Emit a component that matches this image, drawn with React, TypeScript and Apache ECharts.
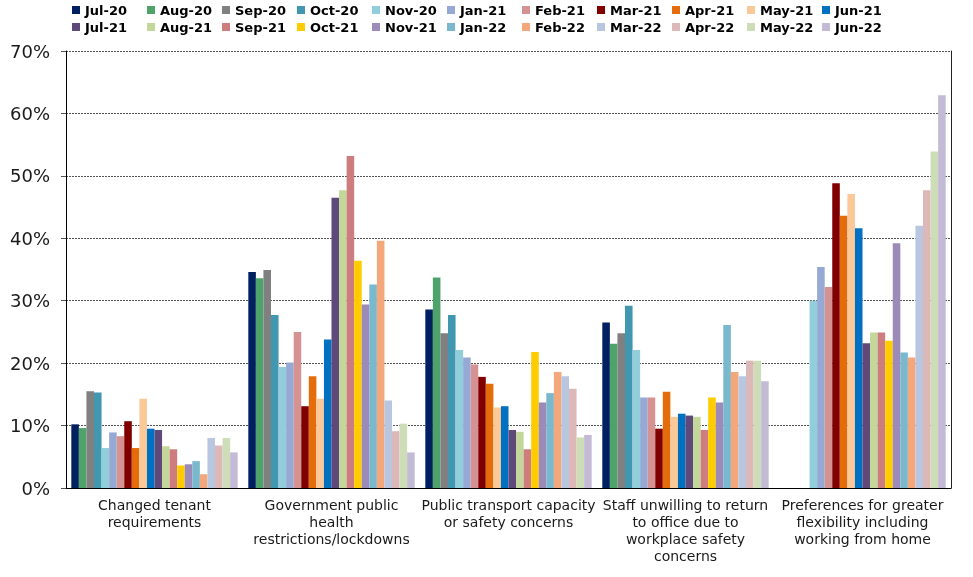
import React, { useEffect, useRef } from "react";
import * as echarts from "echarts";

const categories = [
  "Changed tenant\nrequirements",
  "Government public\nhealth\nrestrictions/lockdowns",
  "Public transport capacity\nor safety concerns",
  "Staff unwilling to return\nto office due to\nworkplace safety\nconcerns",
  "Preferences for greater\nflexibility including\nworking from home",
];

const seriesNames = [
  "Jul-20", "Aug-20", "Sep-20", "Oct-20", "Nov-20", "Jan-21", "Feb-21", "Mar-21", "Apr-21", "May-21", "Jun-21",
  "Jul-21", "Aug-21", "Sep-21", "Oct-21", "Nov-21", "Jan-22", "Feb-22", "Mar-22", "Apr-22", "May-22", "Jun-22",
];

const seriesColors = [
  "#002060", "#4EA36A", "#808080", "#4197AF", "#92CDDC", "#95A9D4", "#D49392", "#800000", "#E46C0A", "#FBC898", "#0070C0",
  "#5F497A", "#C4D79B", "#CD7D7D", "#FFCC00", "#9C8AB8", "#7AB8CE", "#F4A77A", "#B8C6E0", "#DDB8B8", "#CCDDB8", "#C3BAD6",
];

// values per series, in category order (null = no bar)
const jul20 = [10.2, 34.6, 28.6, 26.5, null];
const aug20 = [9.6, 33.6, 33.7, 23.1, null];
const sep20 = [15.5, 34.9, 24.8, 24.8, null];
const oct20 = [15.3, 27.7, 27.7, 29.2, null];
const nov20 = [6.4, 19.4, 22.1, 22.1, 30.0];
const jan21 = [8.9, 20.1, 20.9, 14.5, 35.4];
const feb21 = [8.3, 25.0, 19.8, 14.5, 32.2];
const mar21 = [10.7, 13.1, 17.8, 9.5, 48.8];
const apr21 = [6.4, 17.9, 16.7, 15.4, 43.6];
const may21 = [14.3, 14.3, 12.9, 11.4, 47.1];
const jun21 = [9.5, 23.8, 13.1, 11.9, 41.6];
const jul21 = [9.3, 46.5, 9.3, 11.6, 23.2];
const aug21 = [6.7, 47.7, 9.0, 11.4, 24.9];
const sep21 = [6.2, 53.2, 6.2, 9.3, 24.9];
const oct21 = [3.6, 36.4, 21.8, 14.5, 23.6];
const nov21 = [3.8, 29.4, 13.7, 13.7, 39.2];
const jan22 = [4.3, 32.6, 15.2, 26.1, 21.7];
const feb22 = [2.2, 39.6, 18.6, 18.6, 20.9];
const mar22 = [8.0, 14.0, 17.9, 17.9, 42.0];
const apr22 = [6.8, 9.1, 15.9, 20.4, 47.7];
const may22 = [8.0, 10.3, 8.1, 20.4, 53.9];
const jun22 = [5.7, 5.7, 8.5, 17.1, 62.9];

const seriesValues = [
  jul20, aug20, sep20, oct20, nov20, jan21, feb21, mar21, apr21, may21, jun21,
  jul21, aug21, sep21, oct21, nov21, jan22, feb22, mar22, apr22, may22, jun22,
];

const yTicks = { min: 0, max: 70, interval: 10 };

const FONT = "DejaVu Sans, Verdana, sans-serif";

export default function App() {
  const ref = useRef<HTMLDivElement>(null);
  useEffect(() => {
    if (!ref.current) return;
    const chart = echarts.init(ref.current, undefined, { renderer: "svg" });
    const legendStyle = {
      fontFamily: FONT,
      fontSize: 13,
      fontWeight: "bold" as const,
      color: "#000",
      width: 56,
      lineHeight: 14,
    };
    const legendCommon = {
      orient: "horizontal" as const,
      left: 72,
      padding: 0,
      itemWidth: 8,
      itemHeight: 8,
      itemGap: 6,
      icon: "rect",
      textStyle: legendStyle,
      selectedMode: false,
    };
    chart.setOption({
      animation: false,
      textStyle: { fontFamily: FONT },
      legend: [
        { ...legendCommon, top: 3, data: seriesNames.slice(0, 11) },
        { ...legendCommon, top: 20, data: seriesNames.slice(11) },
      ],
      grid: { left: 66, right: 22, top: 51, bottom: 89, containLabel: false },
      xAxis: {
        type: "category",
        data: categories,
        axisLine: { show: true, lineStyle: { color: "#000", width: 1 } },
        axisTick: { show: false },
        axisLabel: {
          interval: 0,
          fontFamily: FONT,
          fontSize: 14,
          lineHeight: 17,
          color: "#1a1a1a",
          margin: 8,
        },
      },
      yAxis: [
        {
          type: "value",
          min: yTicks.min,
          max: yTicks.max,
          interval: yTicks.interval,
          axisLine: { show: true, lineStyle: { color: "#000", width: 1 } },
          axisTick: { show: true, length: 5, lineStyle: { color: "#555" } },
          axisLabel: {
            formatter: "{value}%",
            fontFamily: FONT,
            fontSize: 18,
            color: "#1a1a1a",
            margin: 16,
          },
          splitLine: {
            show: true,
            lineStyle: { color: "#555", type: [2, 1], width: 1 },
          },
        },
        {
          type: "value",
          position: "right",
          min: yTicks.min,
          max: yTicks.max,
          interval: yTicks.interval,
          axisLine: { show: true, lineStyle: { color: "#222", width: 1 } },
          axisTick: { show: false },
          axisLabel: { show: false },
          splitLine: { show: false },
        },
      ],
      series: seriesNames.map((name, i) => ({
        name,
        type: "bar",
        yAxisIndex: 0,
        data: seriesValues[i],
        barGap: "0%",
        barCategoryGap: "6%",
        itemStyle: { color: seriesColors[i] },
      })),
    });
    return () => chart.dispose();
  }, []);
  return (
    <div
      ref={ref}
      style={{ position: "fixed", left: 0, top: 0, width: 973, height: 577 }}
    />
  );
}
